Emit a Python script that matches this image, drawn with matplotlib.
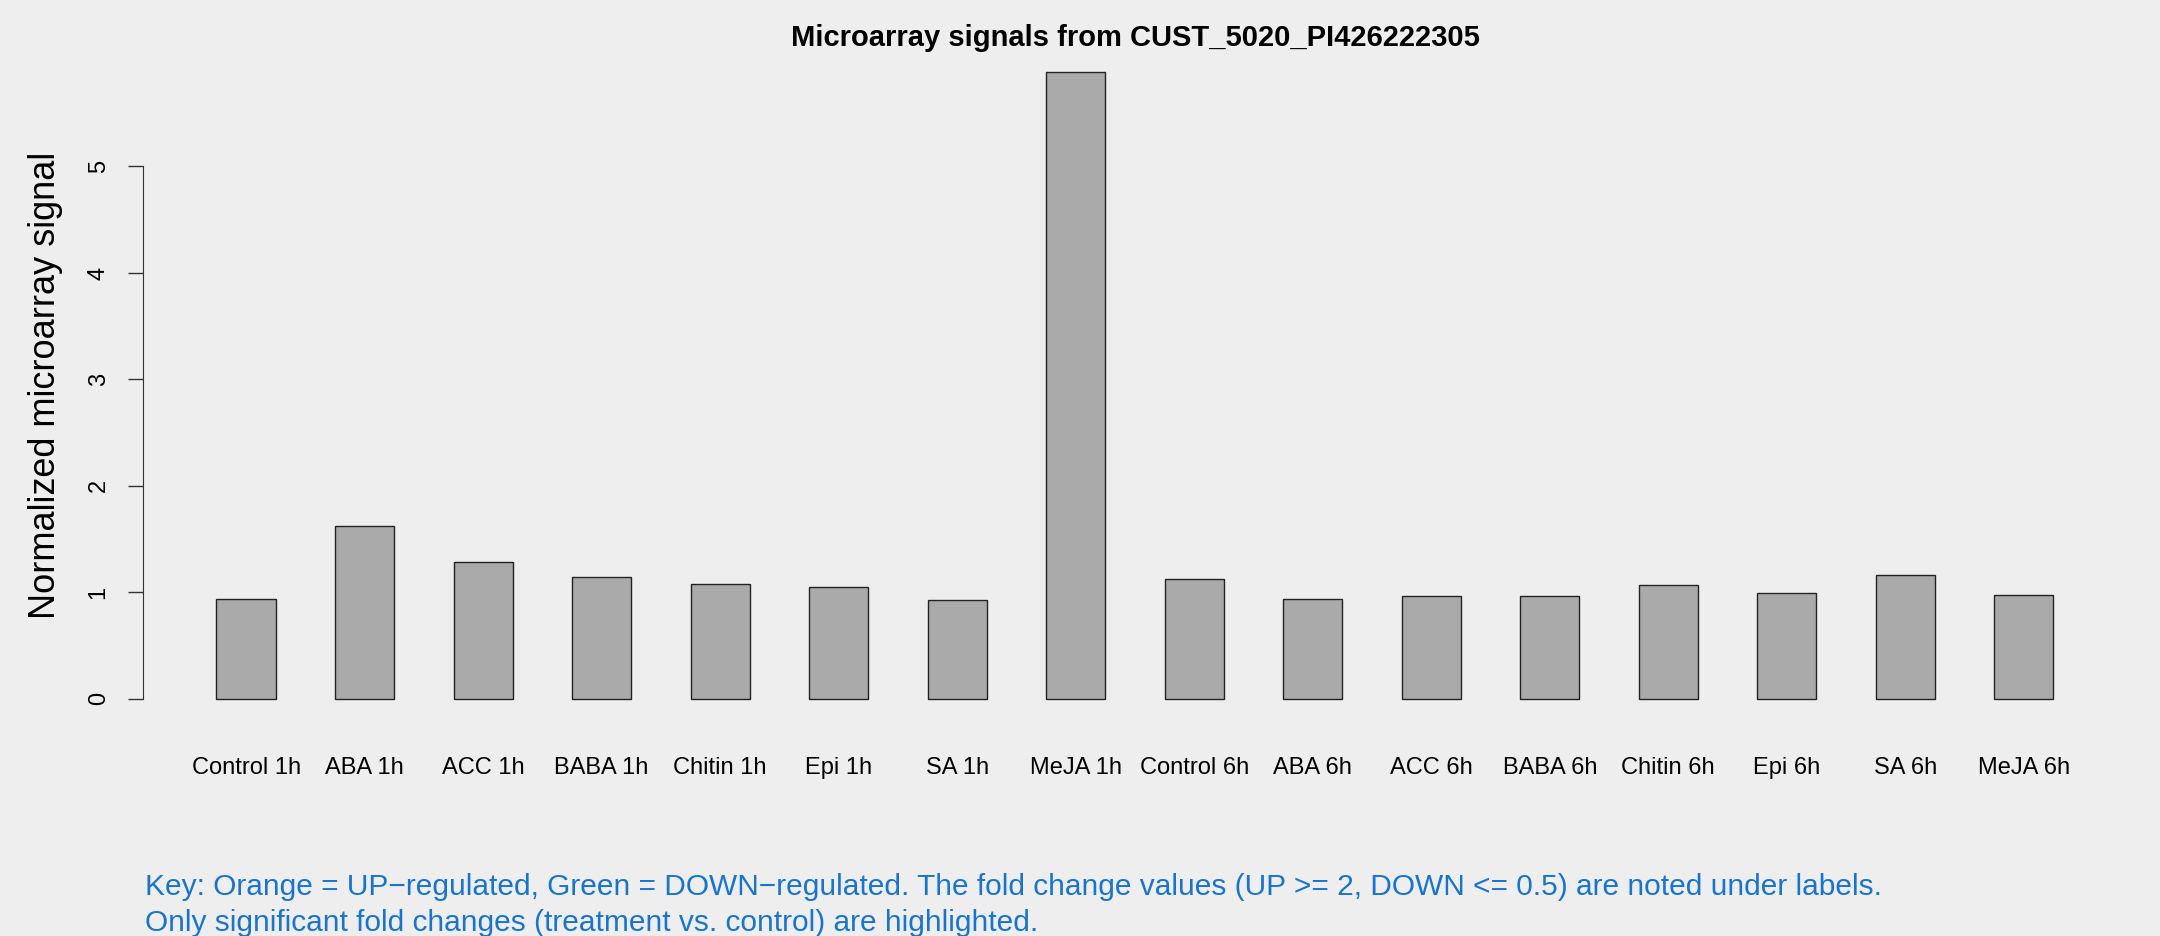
import matplotlib
matplotlib.use("Agg")
import matplotlib.pyplot as plt
import numpy as np

# --- data ---
labels = ["Control 1h", "ABA 1h", "ACC 1h", "BABA 1h", "Chitin 1h", "Epi 1h", "SA 1h", "MeJA 1h",
          "Control 6h", "ABA 6h", "ACC 6h", "BABA 6h", "Chitin 6h", "Epi 6h", "SA 6h", "MeJA 6h"]
signal = [0.934, 1.621, 1.284, 1.143, 1.075, 1.050, 0.928, 5.89,
          1.122, 0.937, 0.962, 0.962, 1.065, 0.990, 1.168, 0.972]
yticks = [0, 1, 2, 3, 4, 5]

title = "Microarray signals from CUST_5020_PI426222305"
key_lines = ["Key: Orange = UP\u2212regulated, Green = DOWN\u2212regulated. The fold change values (UP >= 2, DOWN <= 0.5) are noted under labels.",
             "Only significant fold changes (treatment vs. control) are highlighted."]

plt.rcParams['font.family'] = ['Liberation Sans', 'DejaVu Sans']
BG = "#eeeeee"

fig = plt.figure(figsize=(21.6, 9.36), dpi=100, facecolor=BG)
ax = fig.add_axes([0.0662, 0.2265, 0.9185, 0.7237], facecolor=BG)

# barplot-like layout: width 1, space 1
x = np.arange(len(signal)) * 2 + 1.5
ax.bar(x, signal, width=1.0, color="#aaaaaa", edgecolor="#222222", linewidth=1.0)

xmin, xmax = 1, 2 * len(signal)
pad_x = (xmax - xmin) * 0.04
ax.set_xlim(xmin - pad_x, xmax + pad_x)
ymax = max(signal)
ax.set_ylim(-0.04 * ymax, ymax * 1.04)

for s in ["top", "right", "bottom"]:
    ax.spines[s].set_visible(False)
ax.spines["left"].set_bounds(0, 5)
ax.spines["left"].set_color("#333333")

ax.set_yticks(yticks)
ax.set_yticklabels([str(t) for t in yticks], rotation=90, va="center")
ax.tick_params(axis="y", length=11, width=1, color="#333333", labelsize=17, pad=13)

ax.set_xticks(x)
ax.set_xticklabels(labels)
ax.tick_params(axis="x", length=0, labelsize=17, pad=24)

ax.set_ylabel("Normalized microarray signal", fontsize=26, labelpad=18)

# title centred over the plot region
fig.text(0.0662 + 0.9185 / 2, 1 - 38 / 936, title, fontsize=21, fontweight="bold",
         ha="center", va="center")

fig.text(145 / 2160, 1 - 887 / 936, key_lines[0], color="#1874cd", fontsize=21.5, va="center", ha="left")
fig.text(145 / 2160, 1 - 923 / 936, key_lines[1], color="#1874cd", fontsize=21.5, va="center", ha="left")

fig.savefig("out.png", dpi=100, facecolor=BG)
